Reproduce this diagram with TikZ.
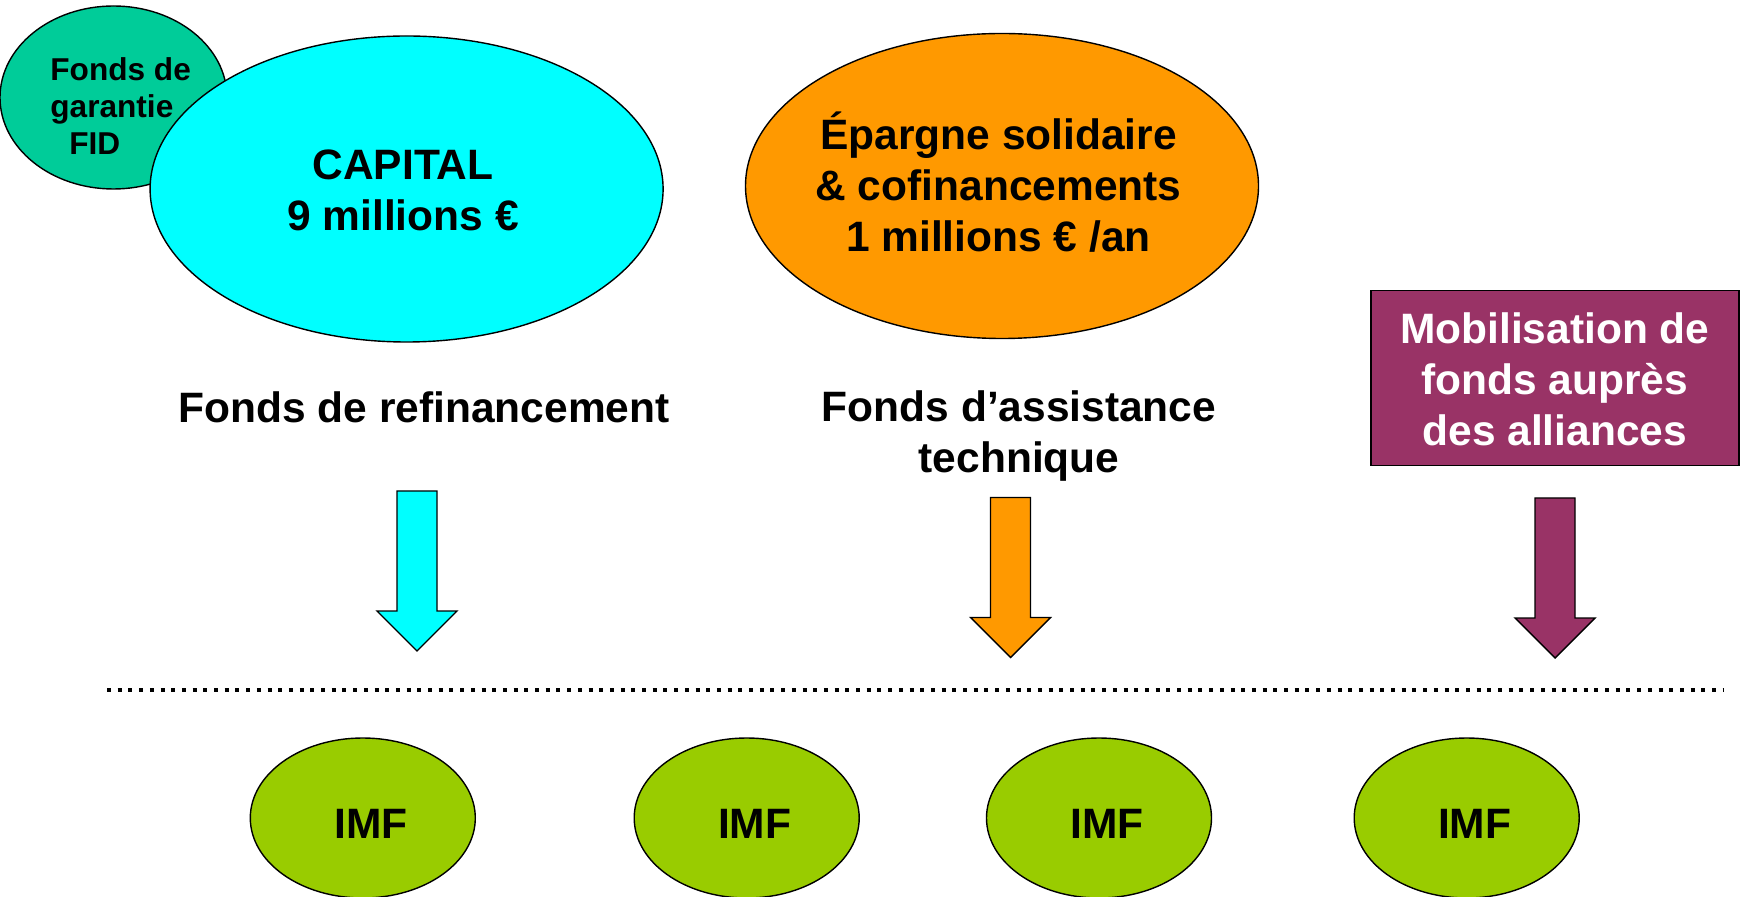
\documentclass[tikz,border=0pt]{standalone}
\usepackage{fontspec}
\setmainfont{Liberation Sans}
\usetikzlibrary{shapes.geometric}
\definecolor{fidgreen}{RGB}{0,204,153}
\definecolor{capcyan}{RGB}{0,255,255}
\definecolor{eporange}{RGB}{255,153,0}
\definecolor{mobpurple}{RGB}{153,51,102}
\definecolor{imfgreen}{RGB}{153,204,0}
\begin{document}
\begin{tikzpicture}[x=0.5pt,y=-0.5pt,
  bigfont/.style={font=\bfseries\fontsize{21.25}{25.5}\selectfont},
  smallfont/.style={font=\bfseries\fontsize{15.8}{18.6}\selectfont},
  outline/.style={draw=black, line width=0.7pt},
  blob/.style={ellipse, outline, inner sep=0pt},
  imf/.style={blob, fill=imfgreen, minimum width=112.5pt, minimum height=80pt},
  label/.style={inner sep=0pt, align=center, bigfont},
  pics/downarrow/.style={code={
    \draw[outline, fill=#1] (-20,0) -- (20,0) -- (20,120) -- (40,120) -- (0,160)
      -- (-40,120) -- (-20,120) -- cycle;}}]
\useasboundingbox (0,0) rectangle (1745,897);
% top shapes
\node[blob, fill=fidgreen, minimum width=113.5pt, minimum height=91.5pt] (fid) at (113.5,97.5) {};
\node[inner sep=0pt, align=left, smallfont, anchor=west] (fidtext) at (50,106) {Fonds de\\garantie\\\hspace*{9.5pt}FID};
\node[blob, fill=capcyan, minimum width=256.5pt, minimum height=153pt] (capital) at (406.6,189) {};
\node[label] (captext) at (403,190.7) {CAPITAL\\9 millions €};
\node[blob, fill=eporange, minimum width=256.5pt, minimum height=152.5pt] (epargne) at (1002,186) {};
\node[label] (eptext) at (998.5,182) {Épargne solidaire\\\& cofinancements\\1 millions € /an};
\node[rectangle, outline, fill=mobpurple, text=white, minimum width=184pt, minimum height=87.5pt, inner sep=0pt] (mob) at (1554.8,378) {};
\node[label, text=white] (mobtext) at (1554.8,379.2) {Mobilisation de\\fonds auprès\\des alliances};
% labels
\node[label] (refi) at (424,407) {Fonds de refinancement};
\node[label] (assist) at (1019,436.5) {Fonds d’assistance\\technique};
% block arrows
\pic at (417,491) {downarrow=capcyan};
\pic at (1010.5,497.5) {downarrow=eporange};
\pic at (1555,498) {downarrow=mobpurple};
% dotted separator
\coordinate (sepL) at (107,690);
\coordinate (sepR) at (1723,690);
\draw[line width=2pt, dash pattern=on 2pt off 3.35pt] (sepL) -- (sepR);
% IMF
\foreach \i/\x in {1/362.8, 2/746.7, 3/1099, 4/1466.7}{
  \node[imf] (imf\i) at (\x,818) {};
  \node[label] (imftext\i) at ([xshift=4pt,yshift=-2.8pt]imf\i.center) {IMF};
}
\end{tikzpicture}
\end{document}
